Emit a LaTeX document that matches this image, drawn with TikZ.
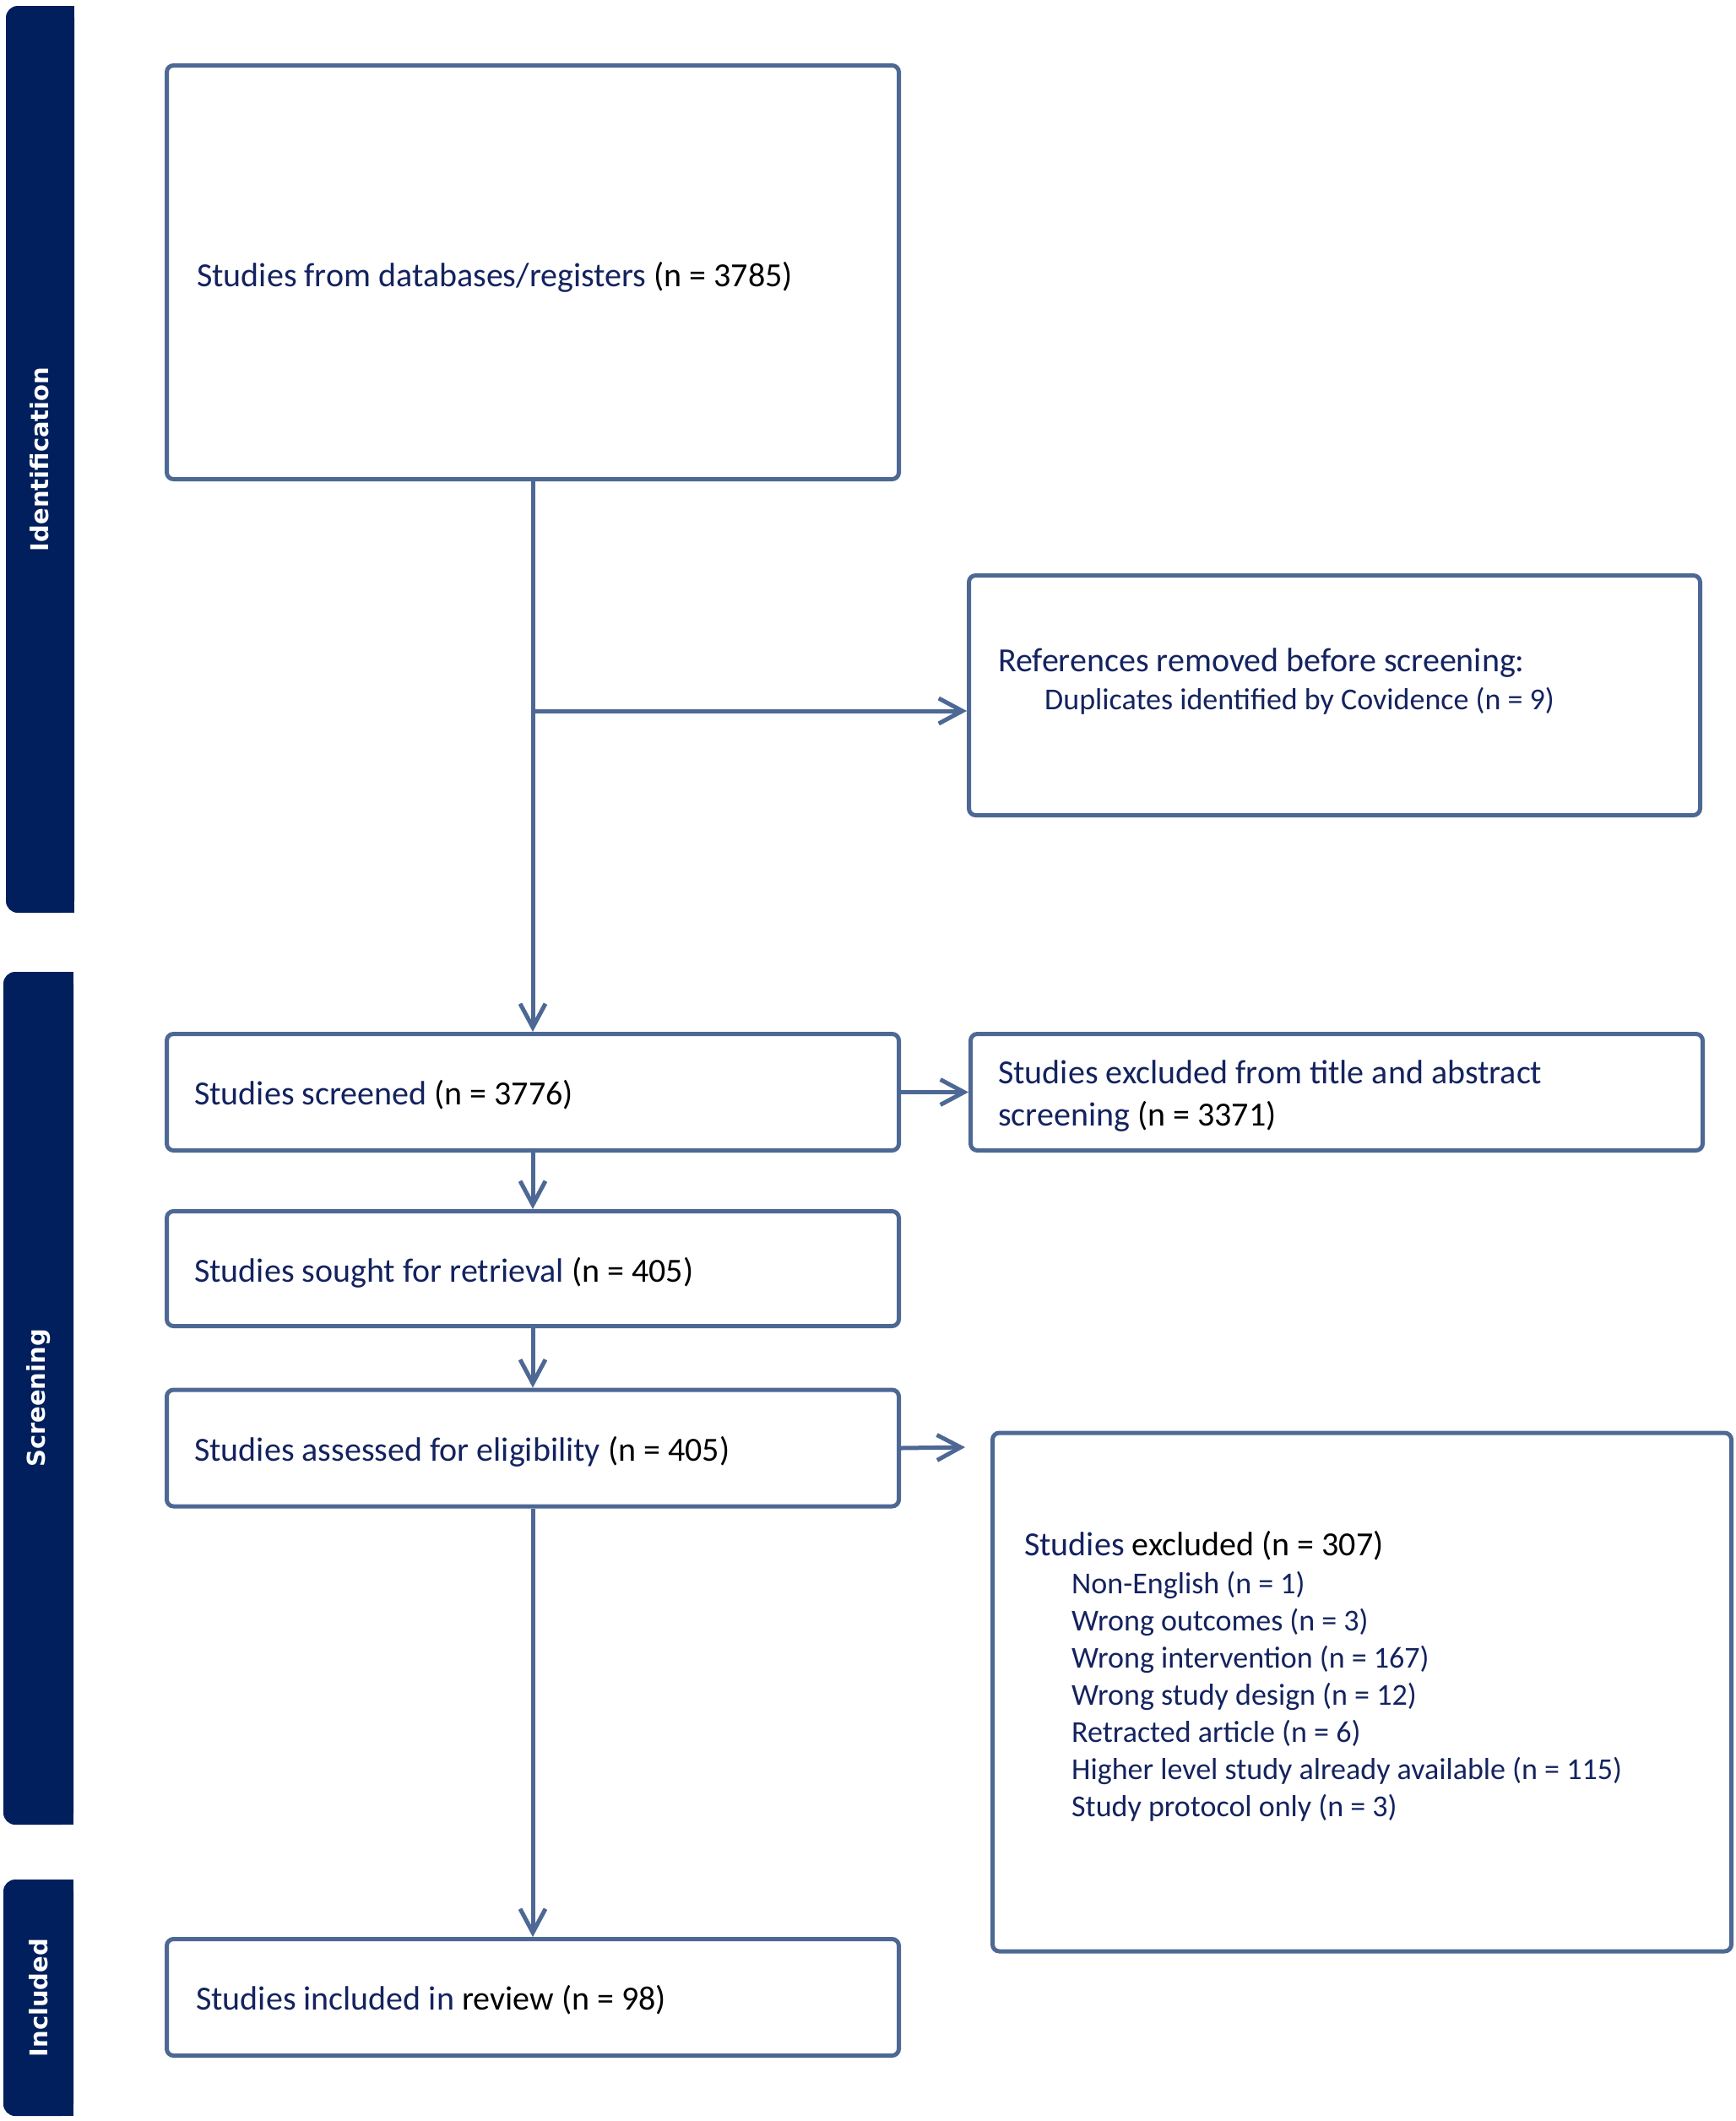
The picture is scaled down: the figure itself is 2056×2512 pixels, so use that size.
\documentclass[tikz,border=0pt]{standalone}
\usepackage{fontspec}
\setmainfont{Carlito}
\newfontfamily\barfont{DejaVu Sans Bold}
\usetikzlibrary{arrows.meta}
\definecolor{barcol}{HTML}{001F5C}
\definecolor{linecol}{HTML}{4D6894}
\definecolor{navy}{HTML}{14235F}
\tikzset{
  box/.style={draw=linecol, line width=5pt, rounded corners=8pt, fill=white, inner sep=0pt},
  txt/.style={anchor=west, inner sep=0pt, text=navy, align=left, font=\fontsize{40}{50}\selectfont},
  subtxt/.style={anchor=west, inner sep=0pt, text=navy, align=left, font=\fontsize{36}{44}\selectfont},
  barlabel/.style={rotate=90, text=white, inner sep=0pt, font=\barfont\fontsize{29}{35}\selectfont},
  arr/.style={draw=linecol, line width=5pt, -{Straight Barb[length=28pt,width=30pt,line width=5pt]}},
}
\newcommand{\blk}[1]{{\color{black}#1}}
\begin{document}
\begin{tikzpicture}[x=1pt,y=-1pt]
\useasboundingbox (0,0) rectangle (2056,2512);
\fill[white] (0,0) rectangle (2056,2512);
% side bars
\fill[barcol, rounded corners=14pt] (7,7) rectangle (88,1081);
\fill[barcol] (48,7) rectangle (88,1081);
\fill[barcol, rounded corners=14pt] (4,1151) rectangle (87,2161);
\fill[barcol] (48,1151) rectangle (87,2161);
\fill[barcol, rounded corners=14pt] (4,2226) rectangle (87,2506);
\fill[barcol] (48,2226) rectangle (87,2506);
\node[barlabel] (lid) at (47,544) {Identification};
\node[barlabel] (lsc) at (46,1656) {Screening};
\node[barlabel] (lin) at (46,2366) {Included};
% boxes
\node[box, minimum width=867pt, minimum height=490pt] (b1) at (631,322.5) {};
\node[box, minimum width=866pt, minimum height=284pt] (b2) at (1580.5,823.5) {};
\node[box, minimum width=867pt, minimum height=138pt] (b3) at (631,1293.5) {};
\node[box, minimum width=867pt, minimum height=138pt] (b4) at (1583,1293.5) {};
\node[box, minimum width=867pt, minimum height=136pt] (b5) at (631,1502.5) {};
\node[box, minimum width=867pt, minimum height=138pt] (b6) at (631,1715) {};
\node[box, minimum width=875pt, minimum height=614pt] (b7) at (1613,2004) {};
\node[box, minimum width=867pt, minimum height=138pt] (b8) at (631,2365.5) {};
% texts
\node[txt] (t1) at (233,328) {Studies from databases/registers \blk{(n = 3785)}};
\node[txt] (t2a) at (1182,785) {References removed before screening:};
\node[subtxt] (t2b) at (1237,830) {Duplicates identified by Covidence (n = 9)};
\node[txt] (t3) at (230,1297) {Studies screened \blk{(n = 3776)}};
\node[txt] (t4) at (1182,1298) {Studies excluded from title and abstract\\screening \blk{(n = 3371)}};
\node[txt] (t5) at (230,1507) {Studies sought for retrieval \blk{(n = 405)}};
\node[txt] (t6) at (230,1719) {Studies assessed for eligibility \blk{(n = 405)}};
\node[txt] (t7h) at (1213,1831) {Studies \blk{excluded (n = 307)}};
\node[subtxt] (t7) at (1269,2009) {Non-English (n = 1)\\Wrong outcomes (n = 3)\\Wrong intervention (n = 167)\\Wrong study design (n = 12)\\Retracted article (n = 6)\\Higher level study already available (n = 115)\\Study protocol only (n = 3)};
\node[txt] (t8) at (232,2369) {Studies included in \blk{review (n = 98)}};
% connectors
\coordinate (br) at (631,842);
\coordinate (free) at (1143,1714);
\draw[arr] (b1.south) -- (b3.north);
\draw[arr] (br) -- (br -| b2.west);
\draw[arr] (b3.east) -- (b4.west);
\draw[arr] (b3.south) -- (b5.north);
\draw[arr] (b5.south) -- (b6.north);
\draw[arr] (b6.east) -- (free);
\draw[arr] (b6.south) -- (b8.north);
\end{tikzpicture}
\end{document}
